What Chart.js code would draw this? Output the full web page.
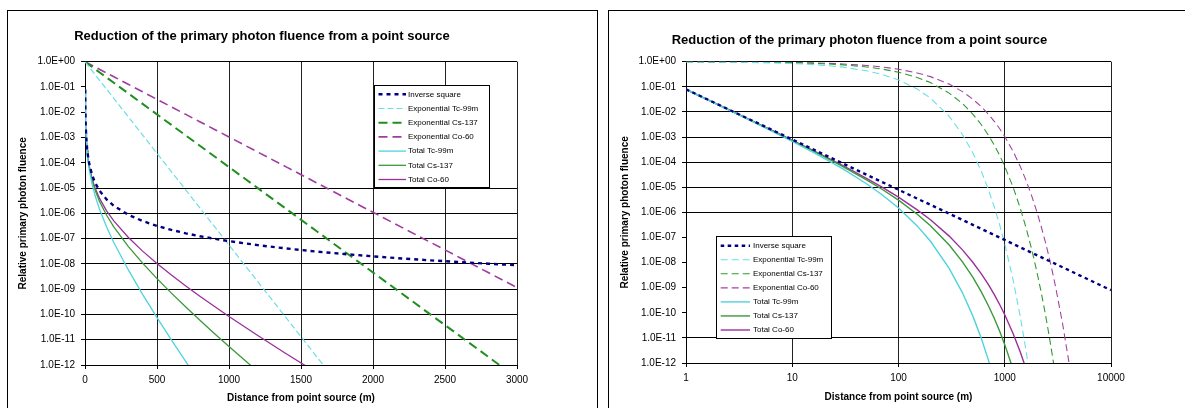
<!DOCTYPE html>
<html>
<head>
<meta charset="utf-8">
<title>Reduction of the primary photon fluence from a point source</title>
<script src="https://cdn.jsdelivr.net/npm/chart.js@4.4.1/dist/chart.umd.min.js"></script>
<style>
  html, body { margin: 0; padding: 0; background: #fff; width: 1185px; height: 408px; overflow: hidden; }
  .panel { position: absolute; top: 10px; border: 1px solid #000; box-sizing: border-box; background: #fff; }
  #leftPanel { left: 7px; width: 591px; height: 420px; }
  #rightPanel { left: 608px; width: 600px; height: 420px; }
  .holder { position: absolute; top: 10px; }
  #leftHolder { left: 7px; }
  #rightHolder { left: 608px; }
</style>
</head>
<body>
<div class="panel" id="leftPanel"></div>
<div class="panel" id="rightPanel"></div>
<div class="holder" id="leftHolder"><canvas id="linearChart" width="574" height="398"></canvas></div>
<div class="holder" id="rightHolder"><canvas id="logChart" width="580" height="398"></canvas></div>
<script>
// Distance from the point source (m)
const distances = [1, 2, 3, 5, 7, 10, 15, 20, 30, 50, 70, 100, 150, 200, 300, 400, 500, 600, 700, 800,
  900, 1000, 1200, 1400, 1600, 1800, 2000, 2200, 2400, 2600, 2800, 3000, 3500, 4000, 5000, 6000, 8000, 10000];

// Relative primary photon fluence, one value per distance (lists stop once far below the axis)
const inverseSquare = [0.0796, 0.0199, 8.84e-3, 3.18e-3, 1.62e-3, 7.96e-4, 3.54e-4, 1.99e-4, 8.84e-5, 3.18e-5,
  1.62e-5, 7.96e-6, 3.54e-6, 1.99e-6, 8.84e-7, 4.97e-7, 3.18e-7, 2.21e-7, 1.62e-7, 1.24e-7,
  9.83e-8, 7.96e-8, 5.53e-8, 4.06e-8, 3.11e-8, 2.46e-8, 1.99e-8, 1.64e-8, 1.38e-8, 1.18e-8,
  1.02e-8, 8.84e-9, 6.50e-9, 4.97e-9, 3.18e-9, 2.21e-9, 1.24e-9, 7.96e-10];
const expTc99m = [0.983, 0.967, 0.951, 0.920, 0.890, 0.846, 0.778, 0.716, 0.606, 0.434,
  0.311, 0.188, 0.0817, 0.0354, 6.67e-3, 1.26e-3, 2.36e-4, 4.45e-5, 8.37e-6, 1.58e-6,
  2.97e-7, 5.58e-8, 1.98e-9, 7.01e-11, 2.48e-12, 8.81e-14];
const expCs137 = [0.990, 0.981, 0.972, 0.953, 0.935, 0.909, 0.866, 0.825, 0.750, 0.619,
  0.511, 0.383, 0.237, 0.147, 0.0561, 0.0215, 8.23e-3, 3.15e-3, 1.21e-3, 4.62e-4,
  1.77e-4, 6.78e-5, 9.94e-6, 1.46e-6, 2.14e-7, 3.13e-8, 4.59e-9, 6.73e-10, 9.87e-11, 1.45e-11,
  2.12e-12, 3.11e-13];
const expCo60 = [0.993, 0.986, 0.980, 0.966, 0.953, 0.934, 0.902, 0.872, 0.814, 0.710,
  0.619, 0.504, 0.357, 0.254, 0.128, 0.0643, 0.0324, 0.0163, 8.22e-3, 4.14e-3,
  2.08e-3, 1.05e-3, 2.66e-4, 6.75e-5, 1.71e-5, 4.34e-6, 1.10e-6, 2.79e-7, 7.09e-8, 1.80e-8,
  4.56e-9, 1.16e-9, 3.75e-11, 1.21e-12, 1.27e-15];
const totalTc99m = [0.0783, 0.0192, 8.41e-3, 2.93e-3, 1.44e-3, 6.73e-4, 2.75e-4, 1.42e-4, 5.36e-5, 1.38e-5,
  5.05e-6, 1.50e-6, 2.89e-7, 7.05e-8, 5.90e-9, 6.25e-10, 7.52e-11, 9.83e-12, 1.36e-12, 1.96e-13];
const totalCs137 = [0.0788, 0.0195, 8.60e-3, 3.03e-3, 1.52e-3, 7.23e-4, 3.06e-4, 1.64e-4, 6.63e-5, 1.97e-5,
  8.30e-6, 3.05e-6, 8.38e-7, 2.92e-7, 4.97e-8, 1.07e-8, 2.62e-9, 6.97e-10, 1.96e-10, 5.75e-11,
  1.74e-11, 5.39e-12, 5.49e-13];
const totalCo60 = [0.0791, 0.0196, 8.67e-3, 3.08e-3, 1.55e-3, 7.43e-4, 3.19e-4, 1.73e-4, 7.20e-5, 2.26e-5,
  1.01e-5, 4.01e-6, 1.26e-6, 5.05e-7, 1.13e-7, 3.20e-8, 1.03e-8, 3.61e-9, 1.34e-9, 5.15e-10,
  2.05e-10, 8.36e-11, 1.47e-11, 2.74e-12, 5.33e-13];

const seriesNames = ['Inverse square', 'Exponential Tc-99m', 'Exponential Cs-137', 'Exponential Co-60',
  'Total Tc-99m', 'Total Cs-137', 'Total Co-60'];
const seriesValues = [inverseSquare, expTc99m, expCs137, expCo60, totalTc99m, totalCs137, totalCo60];

// Axis ticks
const yTicks = [1, 1e-1, 1e-2, 1e-3, 1e-4, 1e-5, 1e-6, 1e-7, 1e-8, 1e-9, 1e-10, 1e-11, 1e-12];
const yTickLabels = ['1.0E+00', '1.0E-01', '1.0E-02', '1.0E-03', '1.0E-04', '1.0E-05', '1.0E-06',
  '1.0E-07', '1.0E-08', '1.0E-09', '1.0E-10', '1.0E-11', '1.0E-12'];
const linearXTicks = [0, 500, 1000, 1500, 2000, 2500, 3000];
const linearXTickLabels = ['0', '500', '1000', '1500', '2000', '2500', '3000'];
const logXTicks = [1, 10, 100, 1000, 10000];
const logXTickLabels = ['1', '10', '100', '1000', '10000'];
// Horizontal gridlines that each panel draws
const linearGridRows = [1, 1e-5, 1e-6, 1e-7, 1e-8, 1e-9, 1e-10, 1e-11, 1e-12];
const logGridRows = [1, 1e-1, 1e-2, 1e-3, 1e-4, 1e-5, 1e-6, 1e-11, 1e-12];

const FONT = '"Liberation Sans", Arial, Helvetica, sans-serif';
const titleText = 'Reduction of the primary photon fluence from a point source';

// Legend drawn inside the plot, as a framed box
const boxLegend = {
  id: 'boxLegend',
  afterDatasetsDraw(chart, args, o) {
    const ctx = chart.ctx;
    ctx.save();
    ctx.fillStyle = '#fff';
    ctx.fillRect(o.x, o.y, o.w, o.h);
    ctx.strokeStyle = '#000';
    ctx.lineWidth = 1;
    ctx.strokeRect(Math.round(o.x) + 0.5, Math.round(o.y) + 0.5, Math.round(o.w), Math.round(o.h));
    ctx.font = '8px ' + FONT;
    ctx.textBaseline = 'middle';
    ctx.textAlign = 'left';
    chart.data.datasets.forEach((ds, i) => {
      const y = o.y + o.firstRow + i * o.rowStep;
      ctx.strokeStyle = ds.borderColor;
      ctx.lineWidth = ds.borderWidth;
      ctx.setLineDash(ds.borderDash || []);
      ctx.beginPath();
      ctx.moveTo(o.x + o.sampleStart, y);
      ctx.lineTo(o.x + o.sampleEnd, y);
      ctx.stroke();
      ctx.setLineDash([]);
      ctx.fillStyle = '#000';
      ctx.fillText(ds.label, o.x + o.textStart, y);
    });
    ctx.restore();
  }
};

function points(values, xMax) {
  return values.map((v, i) => ({ x: distances[i], y: v })).filter(p => p.x <= xMax);
}

function buildDatasets(styles, xMax) {
  return seriesNames.map((name, i) => ({
    label: name,
    data: points(seriesValues[i], xMax),
    borderColor: styles[i].color,
    borderWidth: styles[i].width,
    borderDash: styles[i].dash,
    pointRadius: 0,
    pointHoverRadius: 0,
    fill: false,
    tension: 0
  }));
}

function yScale(gridRows, titlePad) {
  return {
    type: 'logarithmic',
    min: 1e-12,
    max: 1,
    afterBuildTicks: s => { s.ticks = yTicks.map(v => ({ value: v })); },
    afterFit: s => { s.width = 78; },
    ticks: {
      callback: v => yTickLabels[yTicks.indexOf(v)],
      autoSkip: false, padding: 6, color: '#000',
      font: { family: FONT, size: 10 }
    },
    grid: {
      color: c => (c.tick && gridRows.includes(c.tick.value)) ? '#000' : 'rgba(0,0,0,0)',
      tickColor: '#000', tickLength: 4, lineWidth: 1
    },
    border: { display: true, color: '#000', width: 1 },
    title: {
      display: true, text: 'Relative primary photon fluence', color: '#000',
      font: { family: FONT, size: 10, weight: 'bold' }, padding: { top: titlePad, bottom: 0 }
    }
  };
}

function xTitle(bottomPad) {
  return {
    display: true, text: 'Distance from point source (m)', color: '#000',
    font: { family: FONT, size: 10, weight: 'bold' }, padding: { top: 0, bottom: bottomPad }
  };
}

function chartTitle(top, bottom) {
  return {
    display: true, text: titleText, color: '#000',
    font: { family: FONT, size: 13, weight: 'bold' }, padding: { top: top, bottom: bottom }
  };
}

// Left panel: linear distance axis
const linearStyles = [
  { color: '#000080', width: 2.4, dash: [4, 4] },
  { color: '#6adfe6', width: 1.2, dash: [6, 3] },
  { color: '#1f8f1f', width: 2, dash: [9, 5] },
  { color: '#a03ca0', width: 1.6, dash: [9, 5] },
  { color: '#4fd3dc', width: 1.3, dash: [] },
  { color: '#3a9a3a', width: 1.3, dash: [] },
  { color: '#9b309b', width: 1.3, dash: [] }
];

new Chart(document.getElementById('linearChart'), {
  type: 'line',
  data: { datasets: buildDatasets(linearStyles, 3000) },
  plugins: [boxLegend],
  options: {
    responsive: false, animation: false, events: [],
    layout: { padding: { left: 0, top: 0, right: 64, bottom: 0 } },
    scales: {
      x: {
        type: 'linear', min: 0, max: 3000,
        afterBuildTicks: s => { s.ticks = linearXTicks.map(v => ({ value: v })); },
        afterFit: s => { s.height = 43; },
        ticks: {
          callback: v => linearXTickLabels[linearXTicks.indexOf(v)],
          autoSkip: false, maxRotation: 0, padding: 5, color: '#000',
          font: { family: FONT, size: 10 }
        },
        grid: { color: '#222', tickColor: '#000', tickLength: 4, lineWidth: 1 },
        border: { display: true, color: '#000', width: 1 },
        title: xTitle(4)
      },
      y: yScale(linearGridRows, 10)
    },
    plugins: {
      legend: { display: false },
      tooltip: { enabled: false },
      title: chartTitle(18.4, 17.7),
      boxLegend: { x: 367, y: 75, w: 115, h: 102, firstRow: 9.3, rowStep: 14.2, sampleStart: 4.5, sampleEnd: 32, textStart: 34 }
    }
  }
});

// Right panel: logarithmic distance axis
const logStyles = [
  { color: '#000080', width: 2.4, dash: [3.5, 3.5] },
  { color: '#6adfe6', width: 1.1, dash: [7, 4] },
  { color: '#2f9a2f', width: 1.1, dash: [7, 4] },
  { color: '#a443a4', width: 1.1, dash: [7, 4] },
  { color: '#4fd3dc', width: 1.4, dash: [] },
  { color: '#3a9a3a', width: 1.4, dash: [] },
  { color: '#9b309b', width: 1.4, dash: [] }
];

new Chart(document.getElementById('logChart'), {
  type: 'line',
  data: { datasets: buildDatasets(logStyles, 10000) },
  plugins: [boxLegend],
  options: {
    responsive: false, animation: false, events: [],
    layout: { padding: { left: 0, top: 0, right: 77, bottom: 0 } },
    scales: {
      x: {
        type: 'logarithmic', min: 1, max: 10000,
        afterBuildTicks: s => { s.ticks = logXTicks.map(v => ({ value: v })); },
        afterFit: s => { s.height = 45; },
        ticks: {
          callback: v => logXTickLabels[logXTicks.indexOf(v)],
          autoSkip: false, maxRotation: 0, padding: 5, color: '#000',
          font: { family: FONT, size: 10 }
        },
        grid: { color: '#222', tickColor: '#000', tickLength: 4, lineWidth: 1 },
        border: { display: true, color: '#000', width: 1 },
        title: xTitle(5)
      },
      y: yScale(logGridRows, 11)
    },
    plugins: {
      legend: { display: false },
      tooltip: { enabled: false },
      title: chartTitle(22.7, 13.4),
      boxLegend: { x: 108, y: 226.3, w: 115, h: 102, firstRow: 9.4, rowStep: 14.05, sampleStart: 4.7, sampleEnd: 34, textStart: 37 }
    }
  }
});
</script>
</body>
</html>
